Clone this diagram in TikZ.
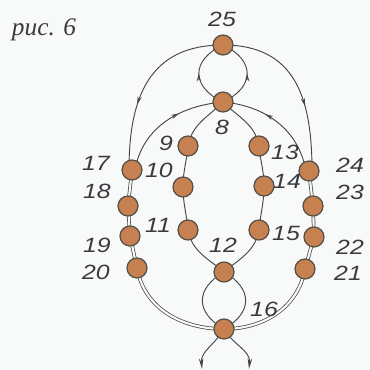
\documentclass[tikz,border=0pt]{standalone}
\usepackage{fontspec}
\setmainfont{Liberation Serif}
\newfontfamily\numfont{Liberation Sans}[FakeStretch=1.2]
\usetikzlibrary{arrows.meta, decorations.markings, backgrounds, calc}
\definecolor{BeadBrown}{RGB}{199, 128, 80}
\definecolor{BeadEdge}{RGB}{82, 80, 72}
\definecolor{ThreadGray}{RGB}{70, 70, 70}
\definecolor{LabelGray}{RGB}{58, 58, 64}
\definecolor{PaperTint}{RGB}{248, 249, 249}

\tikzset{
  bead/.style={circle, fill=BeadBrown, draw=BeadEdge, line width=0.9pt,
    minimum size=15pt, inner sep=0pt},
  thread/.style={draw=ThreadGray, line width=0.7pt},
  twin/.style={draw=ThreadGray, line width=0.55pt, double=PaperTint,
    double distance=1.6pt},
  num/.style={text=LabelGray, inner sep=0pt,
    font=\numfont\itshape\fontsize{15.5}{16}\selectfont},
  midarrow/.style={postaction={decorate}, decoration={markings,
    mark=at position #1 with {\arrow{Stealth[length=6pt,width=3.2pt]}}}},
  endarrow/.style={-{Stealth[length=8pt,width=3.4pt]}}
}

\begin{document}
\begin{tikzpicture}[x=0.75pt, y=-0.75pt]
    % beads
    \foreach \n/\x/\y in {25/223/45, 8/223/102, 9/188/146, 10/183/187,
        11/188/230, 12/224/272, 13/259/146, 14/264/186, 15/259/230,
        16/224/329, 17/132/170, 18/128/206, 19/130/236, 20/137/268,
        24/309/171, 23/313/206, 22/314/237, 21/305/269}
      \node[bead] (b\n) at (\x,\y) {};

    % numbers
    \foreach \n/\x/\y in {25/222/19, 8/222/127, 9/166/143, 10/159/170,
        11/158/225, 12/223/245, 13/285/152, 14/287/181, 15/286/233,
        16/264/309, 17/96/163, 18/97/191, 19/97/245, 20/96/272,
        24/350/165, 23/350/192, 22/350/247, 21/348/273}
      \node[num] (l\n) at (\x,\y) {\n};

    \node[text=LabelGray, inner sep=0pt, font=\itshape\fontsize{19}{19}\selectfont]
      (caption) at (44,30) {рис. 6};

    \coordinate (tailL) at (202,369);
    \coordinate (tailR) at (249,369);

    \begin{scope}[on background layer]
      \fill[PaperTint] (0,0) rectangle (370,370);
      % loop 8 - 25
      \draw[thread, midarrow=0.5] (b8.center) to[out=155, in=-155, looseness=1.6] (b25.center);
      \draw[thread, midarrow=0.5] (b8.center) to[out=25, in=-25, looseness=1.6] (b25.center);
      % outer arcs
      \draw[thread, midarrow=0.63] (b25.center) to[out=180, in=90, looseness=1.2] ($(b17.center)+(-3,0)$);
      \draw[thread, midarrow=0.63] (b25.center) to[out=0, in=90, looseness=1.2] ($(b24.center)+(3,0)$);
      % inner arcs
      \draw[thread, midarrow=0.62] ($(b17.center)+(3,0)$) to[out=80, in=185] (b8.center);
      \draw[thread, midarrow=0.62] ($(b24.center)+(-3,0)$) to[out=100, in=-5] (b8.center);
      % middle ring
      \draw[thread] (b8.center) to[out=-135, in=80] (b9.center) to[out=-95, in=90] (b10.center)
        to[out=-90, in=95] (b11.center) to[out=-80, in=140] (b12.center);
      \draw[thread] (b8.center) to[out=-45, in=100] (b13.center) to[out=-85, in=90] (b14.center)
        to[out=-90, in=85] (b15.center) to[out=-100, in=40] (b12.center);
      % loop 12 - 16
      \draw[thread] (b12.center) to[out=-150, in=150, looseness=1.5] (b16.center);
      \draw[thread] (b12.center) to[out=-30, in=30, looseness=1.5] (b16.center);
      % side columns
      \draw[twin] (b17.center) -- (b18.center) -- (b19.center) -- (b20.center)
        to[out=-80, in=180] (b16.center);
      \draw[twin] (b24.center) -- (b23.center) -- (b22.center) -- (b21.center)
        to[out=-100, in=0] (b16.center);
      % ends
      \draw[thread, endarrow] (b16.center) to[out=-120, in=95] (tailL);
      \draw[thread, endarrow] (b16.center) to[out=-60, in=85] (tailR);
    \end{scope}
\end{tikzpicture}
\end{document}
